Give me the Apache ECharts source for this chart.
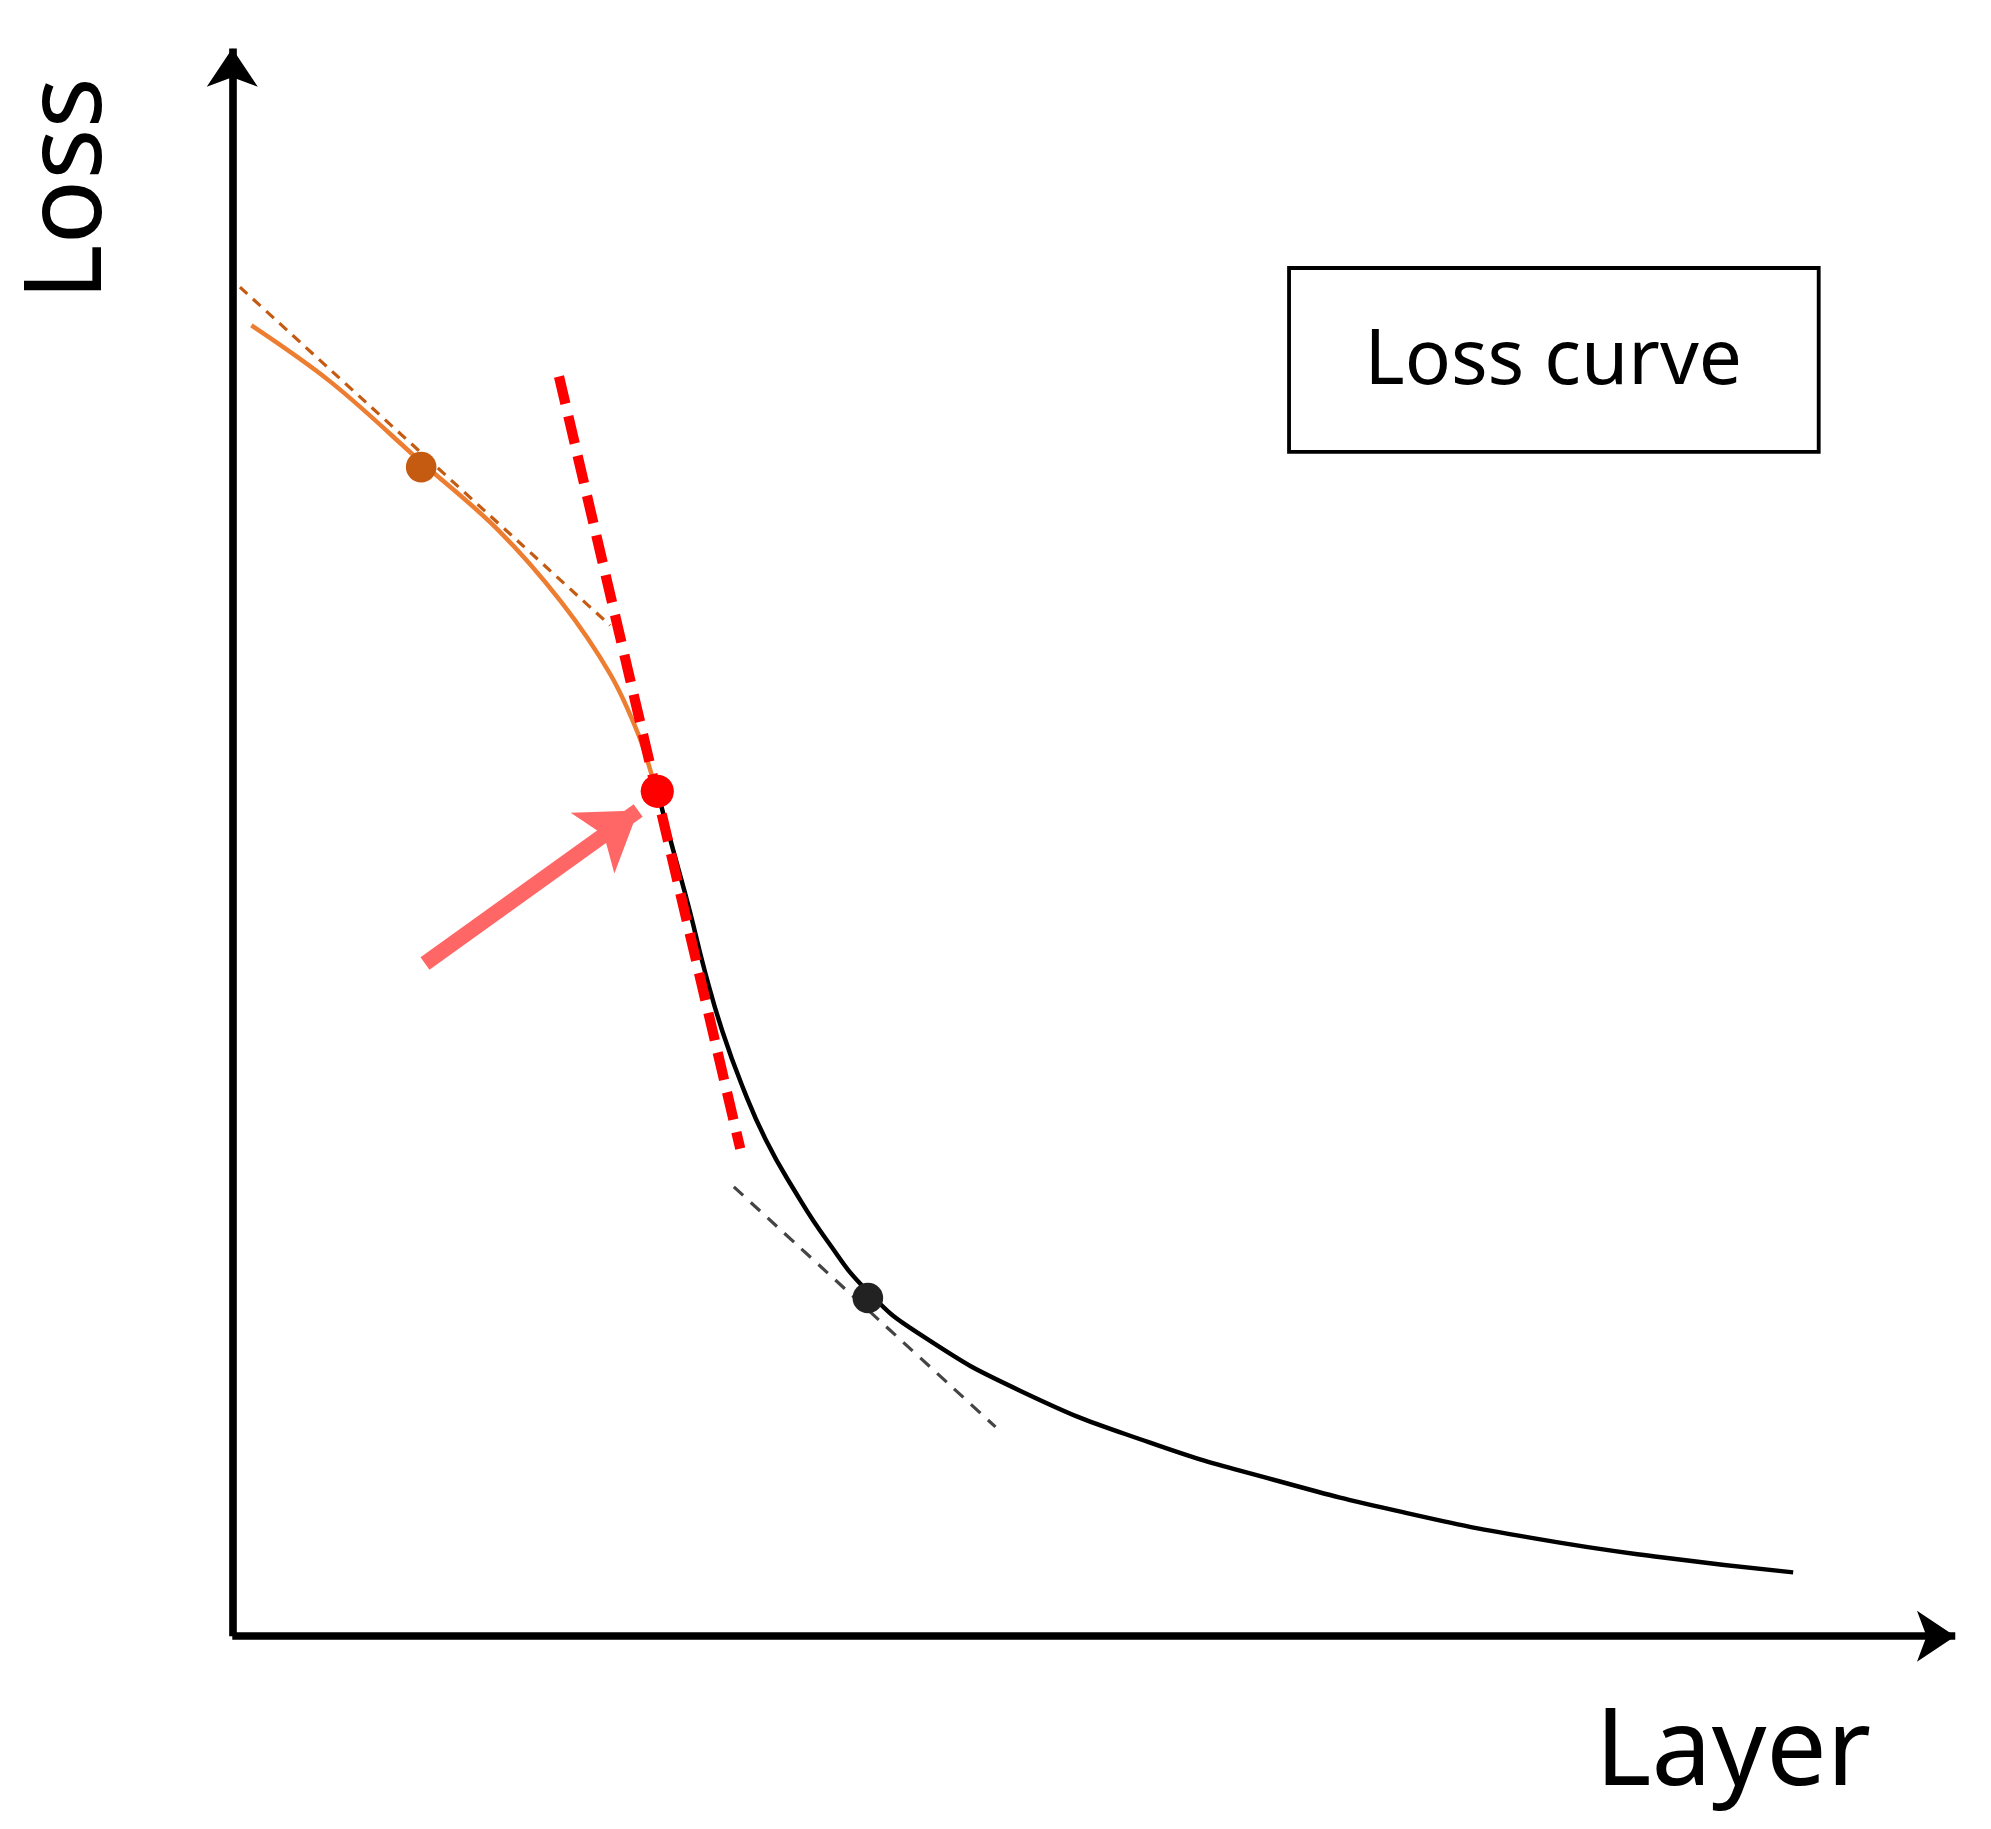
<!DOCTYPE html>
<html>
<head>
<meta charset="utf-8">
<script src="https://cdn.jsdelivr.net/npm/echarts@6/dist/echarts.min.js"></script>
<style>html,body{margin:0;padding:0;background:#fff;}#chart{width:1991px;height:1829px;}</style>
</head>
<body>
<div id="chart"></div>
<script>
// coordinates are in the sketch's own units (1 unit = 1/1.2763 px), y grows downward
var S = 1991 / 1560;

var orangeCurve = [[197,255],[260,300],[330,362],[390,415],[440,472],[478,528],[500,575],[512,612]];
var blackCurve = [[515,620],[528,668],[540,712],[552,760],[566,808],[582,852],[600,893],[622,932],[648,972],[680,1012],[720,1045],[800,1090],[900,1130],[1000,1160],[1100,1185],[1200,1205],[1300,1220],[1405,1232]];
var orangeTangent = [[188,225],[478,490]];
var redTangent = [[438,295],[580,900]];
var grayTangent = [[575,930],[780,1118]];
var orangeDot = [[330,366]];
var redDot = [[515,620]];
var blackDot = [[680,1017]];
var arrowLine = [[333,755],[500,635]];
var yAxisLine = [[182,1282],[182,38]];
var xAxisLine = [[182,1282],[1532,1282]];

function line(data, color, width, type, z, smooth) {
  return {type:'line', data:data, symbol:'none', smooth:smooth == null ? 0.35 : smooth, z:z||2,
    lineStyle:{color:color, width:width*S, type:type||'solid', cap:'butt'}, silent:true};
}
function arrow(data, color, width, size) {
  return {type:'lines', coordinateSystem:'cartesian2d', z:5, silent:true,
    symbol:['none','arrow'], symbolSize:size*S,
    data:[{coords:data}], lineStyle:{color:color, width:width*S, opacity:1, curveness:0}};
}
function dot(data, color, size) {
  return {type:'scatter', data:data, symbolSize:size*S, z:6, silent:true, itemStyle:{color:color, opacity:1}};
}

var chart = echarts.init(document.getElementById('chart'));
chart.setOption({
  animation:false,
  backgroundColor:'#fff',
  grid:{left:0,right:0,top:0,bottom:0},
  xAxis:{type:'value', min:0, max:1560, show:false},
  yAxis:{type:'value', min:0, max:1829/S, inverse:true, show:false},
  series:[
    line(orangeCurve, '#ed7d31', 3.5),
    line(blackCurve, '#000', 3.5, 'solid', 2, 0.5),
    line(orangeTangent, '#c55a11', 2.5, [8*S,6*S]),
    line(redTangent, '#ff0000', 8, [22*S,10*S], 4),
    line(grayTangent, '#444', 2.5, [10*S,8*S]),
    dot(orangeDot, '#c55a11', 24),
    dot(blackDot, '#222', 24),
    dot(redDot, '#ff0000', 26),
    arrow(arrowLine, '#ff6666', 12, 44),
    arrow(yAxisLine, '#000', 6, 30),
    arrow(xAxisLine, '#000', 6, 30)
  ],
  graphic:[
    {type:'rect', shape:{x:1010*S, y:210*S, width:415*S, height:144*S},
     style:{fill:'#fff', stroke:'#000', lineWidth:3*S}},
    {type:'text', x:1217*S, y:284*S, style:{text:'Loss curve', font:(60*S)+'px "Noto Sans", sans-serif', fill:'#000', align:'center', verticalAlign:'middle'}},
    {type:'text', x:55*S, y:148*S, rotation:Math.PI/2, style:{text:'Loss', font:(84*S)+'px "Noto Sans", sans-serif', fill:'#000', align:'center', verticalAlign:'middle'}},
    {type:'text', x:1358*S, y:1375*S, style:{text:'Layer', font:(84*S)+'px "Noto Sans", sans-serif', fill:'#000', align:'center', verticalAlign:'middle'}}
  ]
});
</script>
</body>
</html>
